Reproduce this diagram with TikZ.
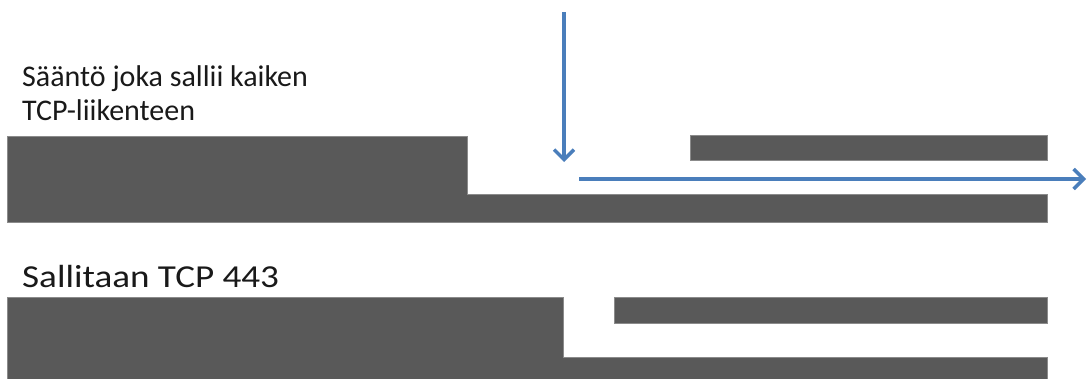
\documentclass[tikz,border=0pt]{standalone}
\usepackage{fontspec}
\setmainfont{Carlito}
\usetikzlibrary{arrows.meta}
\definecolor{wallgray}{HTML}{595959}
\definecolor{flowblue}{HTML}{4A7EBB}
\tikzset{
  wall/.style={fill=wallgray, draw=wallgray!70, line width=0.6pt},
  flow/.style={draw=flowblue, line width=3.5pt, -{Straight Barb[length=10pt,width=20pt,line width=3.5pt]}},
  caption/.style={anchor=base west, inner sep=0pt, text=black!90}
}
\newcommand{\wide}[2]{\scalebox{#1}[1]{#2}}
\begin{document}
\begin{tikzpicture}[x=1pt,y=-1pt]
\useasboundingbox (0,0) rectangle (1088,378);
\fill[white] (0,0) rectangle (1088,378);

% rule allowing all TCP traffic
\node[caption, font=\fontsize{30}{36}\selectfont] (t1) at (22,86) {Sääntö joka sallii kaiken};
\node[caption, font=\fontsize{30}{36}\selectfont] (t2) at (22,120) {TCP-liikenteen};
\draw[wall] (7,136) -- (467,136) -- (467,194) -- (1047,194) -- (1047,222) -- (7,222) -- cycle;
\draw[wall] (690,135) rectangle (1047,160);

% traffic enters the gap and passes through
\coordinate (inTop) at (564,12);
\coordinate (inEnd) at (564,162);
\coordinate (outStart) at (579,179);
\coordinate (outEnd) at (1086,179);
\draw[flow] (inTop) -- (inEnd);
\draw[flow] (outStart) -- (outEnd);

% rule allowing TCP 443
\node[caption, font=\fontsize{32}{38}\selectfont] (t3) at (22,287) {\wide{1.16}{Sallitaan TCP 443}};
\draw[wall] (7,297) -- (563,297) -- (563,357) -- (1047,357) -- (1047,379) -- (7,379) -- cycle;
\draw[wall] (614,297) rectangle (1047,323);
\end{tikzpicture}
\end{document}
